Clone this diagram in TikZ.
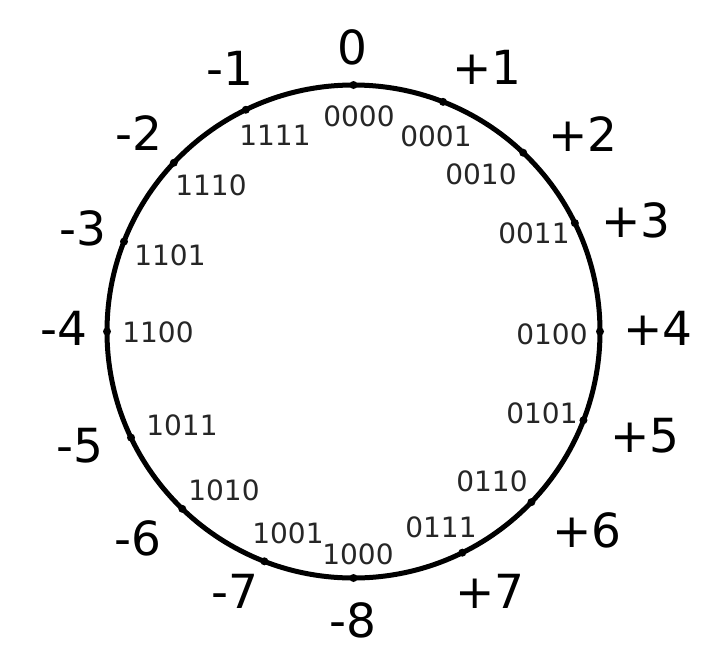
\documentclass[tikz,border=0pt]{standalone}
\usepackage{fontspec}
\setmainfont{DejaVu Sans}
\usetikzlibrary{calc}
\begin{document}
\begin{tikzpicture}[x=1pt,y=-1pt,
  big/.style={inner sep=0pt,font=\fontsize{47}{47}\selectfont},
  small/.style={inner sep=0pt,font=\fontsize{28}{28}\selectfont,text=black!85},
  tick/.style={circle,fill=black,inner sep=0pt,minimum size=8pt}]
\useasboundingbox (0,0) rectangle (725,664);
\coordinate (c) at (353.5,331.5);
\draw[line width=5pt] (c) circle (246.5);
% tick marks (angles as measured)
\foreach \a [count=\k from 0] in {90,68.7,46.5,26.1,0,-21.1,-43.8,-63.8,-90,-111.2,-134,-154.5,180,158.6,136.8,115.9} {
  \node[tick] (t\k) at ($(c)+({246.5*cos(\a)},{-246.5*sin(\a)})$) {};
}
% outer labels
\node[big] (o0)  at (352,47)  {0};
\node[big] (o1)  at (487,67)  {+1};
\node[big] (o2)  at (583,134) {+2};
\node[big] (o3)  at (636,220) {+3};
\node[big] (o4)  at (658,328) {+4};
\node[big] (o5)  at (645,436) {+5};
\node[big] (o6)  at (587,530) {+6};
\node[big] (o7)  at (490,591) {+7};
\node[big] (o8)  at (353,620) {-8};
\node[big] (o9)  at (235,591) {-7};
\node[big] (o10) at (138,538) {-6};
\node[big] (o11) at (80,446)  {-5};
\node[big] (o12) at (64,328)  {-4};
\node[big] (o13) at (83,228)  {-3};
\node[big] (o14) at (139,133) {-2};
\node[big] (o15) at (230,68)  {-1};
% inner labels
\node[small] (i0)  at (359,116) {0000};
\node[small] (i1)  at (436,136) {0001};
\node[small] (i2)  at (481,174) {0010};
\node[small] (i3)  at (534,233) {0011};
\node[small] (i4)  at (552,334) {0100};
\node[small] (i5)  at (542,413) {0101};
\node[small] (i6)  at (492,481) {0110};
\node[small] (i7)  at (441,527) {0111};
\node[small] (i8)  at (358,554) {1000};
\node[small] (i9)  at (288,533) {1001};
\node[small] (i10) at (224,490) {1010};
\node[small] (i11) at (182,425) {1011};
\node[small] (i12) at (158,332) {1100};
\node[small] (i13) at (170,255) {1101};
\node[small] (i14) at (211,185) {1110};
\node[small] (i15) at (275,135) {1111};
\end{tikzpicture}
\end{document}
